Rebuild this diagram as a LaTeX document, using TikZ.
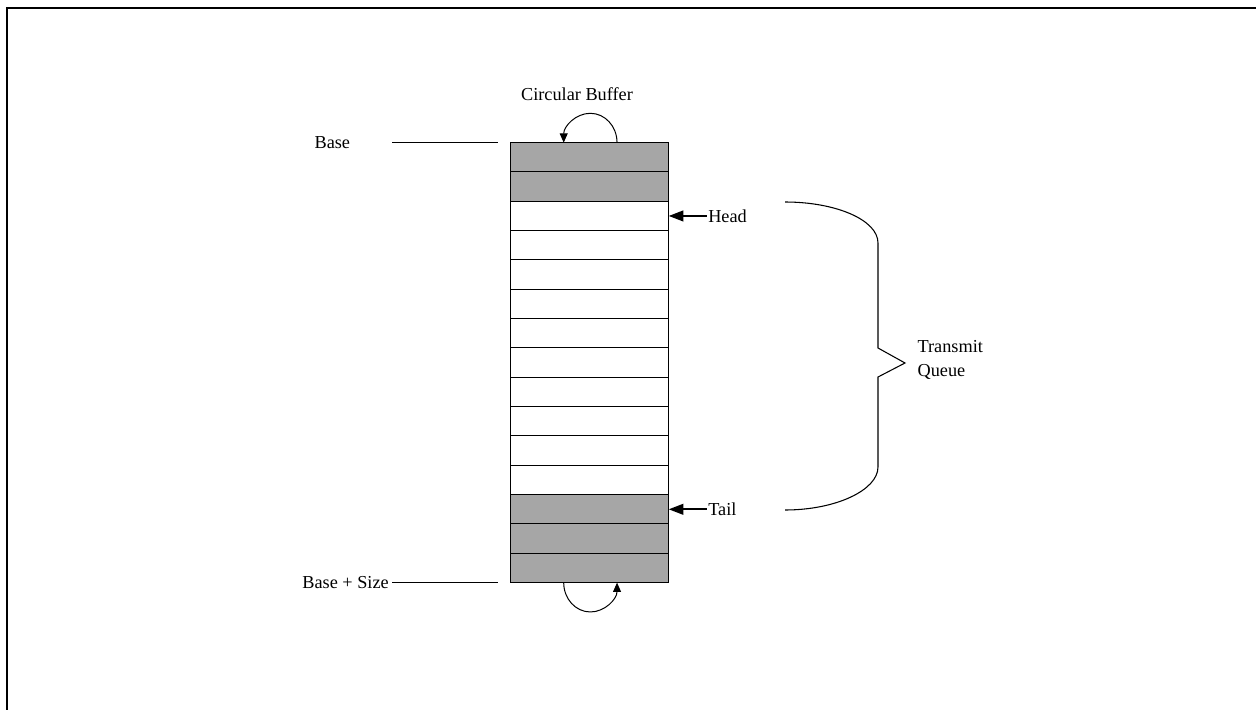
\documentclass[tikz,border=0pt]{standalone}
\usepackage{fontspec}
\setmainfont{Liberation Serif}
\usetikzlibrary{arrows.meta,positioning}
\definecolor{used}{HTML}{A6A6A6}
\definecolor{free}{HTML}{FFFFFF}
\tikzset{
  slot/.style={draw, line width=0.75pt, fill=free, minimum width=118.5pt, minimum height=22pt, inner sep=0pt, outer sep=0pt},
  lbl/.style={font=\fontsize{13.7}{18}\selectfont, inner sep=1pt},
  tick/.style={line width=0.9pt},
  brace/.style={line width=0.8pt},
  pointer/.style={-{Triangle[length=11pt,width=8pt]}, line width=1.5pt},
  wrap/.style={-{Triangle[length=7pt,width=6pt]}, line width=0.75pt},
  frame/.style={line width=1.5pt}
}
\begin{document}
\begin{tikzpicture}[x=0.75pt, y=-0.75pt]
  \useasboundingbox (0,0) rectangle (1256,710);
  \draw[frame] (7,720) |- (1270,8);

  % buffer slots, top to bottom
  \node[slot, fill=used] (c1) at (589.7,157.3) {};
  \foreach \col [count=\i from 2] in {used,free,free,free,free,free,free,free,free,free,free,used,used,used} {
    \pgfmathtruncatemacro\j{\i-1}
    \node[slot, fill=\col, below=0pt of c\j] (c\i) {};
  }

  \node[lbl] (title) at (577,94) {Circular Buffer};
  \draw[wrap] ([xshift=20.5pt]c1.north) arc[start angle=0, end angle=180, x radius=20pt, y radius=22pt];
  \draw[wrap] ([xshift=-19.5pt]c15.south) arc[start angle=180, end angle=360, x radius=20pt, y radius=22pt];

  % base markers
  \coordinate (basetick) at ([xshift=-9.75pt]c1.north west);
  \draw[tick] (basetick) -- ++(-79.5pt,0) coordinate (baseend);
  \node[lbl, left=30pt of baseend] (base) {Base};
  \coordinate (sizetick) at ([xshift=-9.75pt]c15.south west);
  \draw[tick] (sizetick) -- ++(-79.5pt,0) coordinate (sizeend);
  \node[lbl, left=1pt of sizeend] (size) {Base + Size};

  % queue pointers
  \node[lbl, right=28.5pt of c3] (head) {Head};
  \draw[pointer] (head.west) -- (c3.east);
  \node[lbl, right=28.5pt of c13] (tail) {Tail};
  \draw[pointer] (tail.west) -- (c13.east);

  \node[lbl, align=left, anchor=west] (queue) at (916,360) {Transmit\\Queue};
  \coordinate (qtop) at (785,202);
  \coordinate (qbot) at (785,510);
  \draw[brace] (qtop) .. controls (836,202) and (878,220) .. (878,243) -- (878,348) -- (905,363)
    -- (878,377) -- (878,467) .. controls (878,490) and (836,510) .. (qbot);
\end{tikzpicture}
\end{document}
